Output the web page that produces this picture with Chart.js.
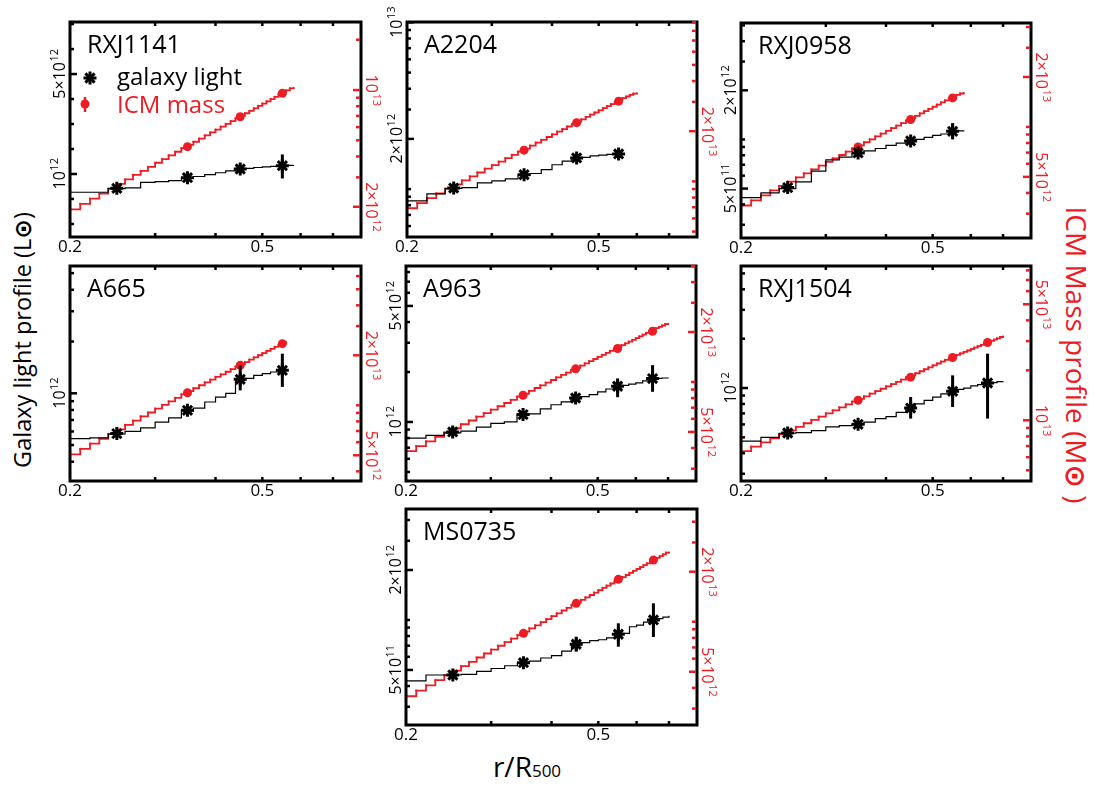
<!DOCTYPE html>
<html>
<head>
<meta charset="utf-8">
<script src="https://cdn.jsdelivr.net/npm/chart.js@4.4.1/dist/chart.umd.min.js"></script>
<style>
  html, body { margin: 0; padding: 0; background: #fff; }
  #page { position: relative; width: 1094px; height: 788px; overflow: hidden; font-family: "Open Sans", sans-serif; }
  #page canvas { position: absolute; }
  .lab { position: absolute; white-space: nowrap; line-height: 1; }
  .sun { font-family: "DejaVu Sans", sans-serif; font-weight: bold; }
</style>
</head>
<body>
<div id="page">
  <div class="lab" style="left:23px; top:340px; font-size:23.5px; transform:translate(-50%,-50%) rotate(-90deg);">Galaxy light profile (L<span class="sun">⊙</span>)</div>
  <div class="lab" style="left:1076px; top:355px; font-size:28px; color:#ed1c24; transform:translate(-50%,-50%) rotate(90deg);">ICM Mass profile (M<span class="sun">⊙</span> )</div>
  <div class="lab" style="left:527px; top:766px; transform:translate(-50%,-50%);"><span style="font-size:28px">r/R</span><span style="font-size:17px">500</span></div>
</div>
<script>
const RED = '#ed1c24';
const FONT = '"Open Sans", sans-serif';

// --- data (luminosity in 1e12 Lsun, ICM mass in 1e12 Msun) ---
const panelNames = ['RXJ1141', 'A2204', 'RXJ0958', 'A665', 'A963', 'RXJ1504', 'MS0735'];
const seriesNames = ['galaxy light', 'ICM mass'];

// step edges of the cumulative profiles (r/R500)
const lightStepR = [0.20, 0.22, 0.24, 0.26, 0.28, 0.30, 0.32, 0.34, 0.36, 0.38, 0.40, 0.42, 0.44,
                    0.46, 0.48, 0.50, 0.52, 0.54, 0.56, 0.58, 0.60, 0.62, 0.64, 0.66, 0.68, 0.70];
const massStepR = [0.20, 0.21, 0.22, 0.23, 0.24, 0.25, 0.26, 0.27, 0.28, 0.29, 0.30, 0.31, 0.32,
                   0.33, 0.34, 0.35, 0.36, 0.37, 0.38, 0.39, 0.40, 0.41, 0.42, 0.43, 0.44, 0.45,
                   0.46, 0.47, 0.48, 0.49, 0.50, 0.51, 0.52, 0.53, 0.54, 0.55, 0.56, 0.57, 0.58,
                   0.59, 0.60, 0.61, 0.62, 0.63, 0.64, 0.65, 0.66, 0.67, 0.68, 0.69, 0.70];
const lightR = [0.25, 0.35, 0.45, 0.55, 0.65];
const massR = [0.35, 0.45, 0.55, 0.65];

const lightStair = [
  [0.745, 0.745, 0.79, 0.80, 0.875, 0.885, 0.90, 0.94, 0.96, 0.99, 1.02, 1.05, 1.08, 1.095, 1.11, 1.12, 1.13, 1.14, 1.15, 1.156],
  [0.85, 0.935, 1.01, 1.02, 1.09, 1.12, 1.15, 1.21, 1.24, 1.31, 1.40, 1.47, 1.53, 1.55, 1.58, 1.60, 1.615, 1.625, 1.63],
  [0.44, 0.47, 0.50, 0.55, 0.64, 0.75, 0.78, 0.82, 0.85, 0.88, 0.92, 0.95, 0.975, 1.0, 1.03, 1.06, 1.08, 1.12, 1.13, 1.14],
  [0.545, 0.55, 0.58, 0.60, 0.63, 0.68, 0.72, 0.79, 0.82, 0.89, 0.95, 1.0, 1.19, 1.22, 1.27, 1.30, 1.33, 1.36, 1.37],
  [0.80, 0.83, 0.86, 0.88, 0.93, 0.98, 1.0, 1.1, 1.12, 1.2, 1.27, 1.32, 1.38, 1.42, 1.46, 1.52, 1.58, 1.63, 1.66, 1.69, 1.72, 1.77, 1.82, 1.83, 1.84, 1.85],
  [0.475, 0.50, 0.53, 0.535, 0.55, 0.58, 0.59, 0.60, 0.62, 0.65, 0.67, 0.71, 0.75, 0.80, 0.84, 0.88, 0.92, 0.955, 0.98, 1.0, 1.03, 1.05, 1.07, 1.08, 1.095, 1.10],
  [0.43, 0.466, 0.466, 0.47, 0.49, 0.51, 0.53, 0.55, 0.565, 0.59, 0.61, 0.65, 0.71, 0.73, 0.75, 0.76, 0.78, 0.82, 0.83, 0.91, 0.93, 0.97, 0.99, 1.02, 1.04, 1.06]
];
const massStair = [
  [1.93, 2.08, 2.24, 2.40, 2.57, 2.74, 2.92, 3.10, 3.28, 3.47, 3.67, 3.86, 4.06, 4.27, 4.48, 4.69, 4.90, 5.12, 5.35, 5.57,
   5.80, 6.04, 6.27, 6.51, 6.76, 7.01, 7.26, 7.51, 7.77, 8.03, 8.30, 8.56, 8.83, 9.11, 9.39, 9.67, 9.95, 10.24, 10.30],
  [6.90, 7.41, 7.94, 8.47, 9.02, 9.58, 10.15, 10.72, 11.31, 11.92, 12.53, 13.15, 13.78, 14.42, 15.07, 15.73, 16.40, 17.08, 17.77, 18.46,
   19.17, 19.88, 20.61, 21.34, 22.08, 22.83, 23.58, 24.35, 25.12, 25.90, 26.69, 27.49, 28.29, 29.10, 29.93, 30.75, 31.59, 32.3, 33.0, 33.6, 33.8],
  [3.36, 3.61, 3.87, 4.14, 4.41, 4.68, 4.97, 5.25, 5.55, 5.84, 6.15, 6.46, 6.77, 7.09, 7.42, 7.75, 8.08, 8.42, 8.76, 9.11,
   9.46, 9.82, 10.18, 10.55, 10.92, 11.29, 11.67, 12.06, 12.44, 12.84, 13.23, 13.63, 14.04, 14.45, 14.86, 15.28, 15.6, 15.9, 16.0],
  [5.06, 5.46, 5.87, 6.29, 6.72, 7.17, 7.63, 8.09, 8.57, 9.05, 9.55, 10.05, 10.57, 11.09, 11.63, 12.16, 12.67, 13.20, 13.73, 14.27,
   14.81, 15.37, 15.92, 16.49, 17.06, 17.64, 18.22, 18.82, 19.41, 20.01, 20.62, 21.24, 21.86, 22.49, 23.13, 23.76, 24.0],
  [3.83, 4.10, 4.38, 4.67, 4.96, 5.26, 5.56, 5.86, 6.18, 6.49, 6.81, 7.14, 7.47, 7.81, 8.15, 8.49, 8.84, 9.20, 9.55, 9.92,
   10.28, 10.65, 11.03, 11.40, 11.78, 12.17, 12.56, 12.95, 13.35, 13.75, 14.16, 14.57, 14.98, 15.39, 15.81, 16.23, 16.66, 17.09, 17.52, 17.96,
   18.40, 18.84, 19.29, 19.74, 20.19, 20.64, 21.10, 21.5, 21.9, 22.3, 22.4],
  [6.52, 6.94, 7.37, 7.80, 8.24, 8.69, 9.14, 9.60, 10.06, 10.53, 11.01, 11.49, 11.97, 12.46, 12.95, 13.45, 13.95, 14.46, 14.97, 15.49,
   16.00, 16.53, 17.06, 17.59, 18.12, 18.66, 19.21, 19.75, 20.30, 20.86, 21.42, 21.98, 22.55, 23.11, 23.68, 24.26, 24.76, 25.28, 25.81, 26.34,
   26.87, 27.41, 27.95, 28.48, 29.02, 29.56, 30.10, 30.65, 31.19, 31.75, 31.9],
  [3.56, 3.85, 4.14, 4.45, 4.76, 5.08, 5.41, 5.74, 6.09, 6.44, 6.80, 7.17, 7.54, 7.92, 8.31, 8.71, 9.11, 9.52, 9.94, 10.37,
   10.80, 11.23, 11.68, 12.13, 12.59, 13.05, 13.52, 14.00, 14.48, 14.97, 15.47, 15.97, 16.48, 16.99, 17.52, 18.04, 18.58, 19.11, 19.66, 20.21,
   20.77, 21.33, 21.90, 22.47, 23.05, 23.64, 24.23, 24.82, 25.43, 26.03, 26.1]
];

const lightPts = [
  [0.794, 0.942, 1.084, 1.143],
  [1.014, 1.219, 1.537, 1.625],
  [0.507, 0.827, 0.979, 1.122],
  [0.583, 0.796, 1.206, 1.36],
  [0.871, 1.108, 1.395, 1.641, 1.826],
  [0.532, 0.601, 0.755, 0.955, 1.073],
  [0.466, 0.553, 0.714, 0.82, 1.0]
];
const lightLo = [
  [null, null, null, 0.93],
  [null, null, null, null],
  [null, null, null, 1.0],
  [null, null, 1.04, 1.09],
  [null, null, 1.33, 1.41, 1.52],
  [null, null, 0.651, 0.766, 0.651],
  [null, null, 0.644, 0.69, 0.79]
];
const lightHi = [
  [null, null, null, 1.37],
  [null, null, null, null],
  [null, null, null, 1.26],
  [null, null, 1.45, 1.70],
  [null, null, 1.46, 1.83, 2.2],
  [null, null, 0.881, 1.195, 1.62],
  [null, null, 0.793, 0.955, 1.26]
];
const massPts = [
  [4.58, 6.92, 9.56],
  [15.4, 22.5, 30.3],
  [7.58, 11.08, 14.95],
  [11.9, 17.4, 23.5],
  [8.32, 12.0, 15.9, 20.2],
  [13.2, 18.2, 23.9, 29.4],
  [8.51, 12.9, 18.0, 23.5]
];

// axis ranges and ticks
const xRange = [0.2, 0.8];
const xTicks = [0.3, 0.4, 0.5, 0.6, 0.7];
const xLabelVals = [0.2, 0.5];
const xLabelText = ['0.2', '0.5'];

const lightRange = [[0.3625, 11.56], [0.516, 10.05], [0.249, 5.17], [0.309, 5.5], [0.441, 8.7], [0.271, 5.55], [0.233, 4.66]];
const massRange = [[1.318, 25.55], [4.64, 90.4], [2.14, 42.3], [3.5, 69], [2.53, 50], [4.31, 85], [2.39, 47.7]];

const lightTicks = [
  [0.447, 0.669, 1, 1.495, 2.236, 3.344, 5, 7.477, 11.18],
  [0.6, 0.7, 0.8, 0.9, 1, 2, 3, 4, 5, 6, 7, 8, 9, 10],
  [0.3, 0.4, 0.5, 0.6, 0.7, 0.8, 0.9, 1, 2, 3, 4, 5],
  [0.4, 0.5, 0.6, 0.7, 0.8, 0.9, 1, 2, 3, 4, 5],
  [0.5, 0.6, 0.7, 0.8, 0.9, 1, 2, 3, 4, 5, 6, 7, 8],
  [0.3, 0.4, 0.5, 0.6, 0.7, 0.8, 0.9, 1, 2, 3, 4, 5],
  [0.3, 0.4, 0.5, 0.6, 0.7, 0.8, 0.9, 1, 2, 3, 4]
];
const lightLabelVals = [[1, 5], [2, 10], [0.5, 2], [1], [1, 5], [1], [0.5, 2]];
const lightLabelText = [
  ['10^12', '5×10^12'], ['2×10^12', '10^13'], ['5×10^11', '2×10^12'], ['10^12'],
  ['10^12', '5×10^12'], ['10^12'], ['5×10^11', '2×10^12']
];

const massTicks = [
  [2, 3, 4, 5, 6, 7, 8, 9, 10, 20],
  [5, 6, 7, 8, 9, 10, 20, 30, 40, 50, 60, 70, 80, 90],
  [3, 4, 5, 6, 7, 8, 9, 10, 20, 30, 40],
  [4, 5, 6, 7, 8, 9, 10, 20, 30, 40, 50, 60],
  [3, 4, 5, 6, 7, 8, 9, 10, 20, 30, 40, 50],
  [5, 6, 7, 8, 9, 10, 20, 30, 40, 50, 60, 70, 80],
  [3, 4, 5, 6, 7, 8, 9, 10, 20, 30, 40]
];
const massLabelVals = [[2, 10], [20], [5, 20], [5, 20], [5, 20], [10, 50], [5, 20]];
const massLabelText = [
  ['2×10^12', '10^13'], ['2×10^13'], ['5×10^12', '2×10^13'], ['5×10^12', '2×10^13'],
  ['5×10^12', '2×10^13'], ['10^13', '5×10^13'], ['5×10^12', '2×10^13']
];

// plot box of each panel on the page: left, top, width, height
const boxes = [
  [70, 22, 291, 215], [407, 22, 290, 215], [741, 23, 290, 215],
  [70, 266, 291, 215], [406, 266, 290, 215], [741, 266, 290, 215],
  [406, 509, 291, 216]
];
const PAD = { left: 36, right: 30, top: 26, bottom: 24 };

function seg(ctx, x1, y1, x2, y2) {
  ctx.beginPath();
  ctx.moveTo(x1, y1);
  ctx.lineTo(x2, y2);
  ctx.stroke();
}

// "2×10^12" -> base text with small raised exponent, rotated
function sciLabel(ctx, text, x, y, angle, color) {
  const parts = text.split('^');
  ctx.save();
  ctx.translate(x, y);
  ctx.rotate(angle);
  ctx.fillStyle = color;
  ctx.textBaseline = 'middle';
  ctx.textAlign = 'left';
  ctx.font = '16px ' + FONT;
  const w1 = ctx.measureText(parts[0]).width;
  ctx.font = '11px ' + FONT;
  const w2 = parts[1] ? ctx.measureText(parts[1]).width : 0;
  const x0 = -(w1 + w2) / 2;
  ctx.font = '16px ' + FONT;
  ctx.fillText(parts[0], x0, 0);
  if (parts[1]) {
    ctx.font = '11px ' + FONT;
    ctx.fillText(parts[1], x0 + w1 + 0.5, -5);
  }
  ctx.restore();
}

function asterisk(ctx, x, y, r) {
  const d = r * Math.SQRT1_2;
  seg(ctx, x - r, y, x + r, y);
  seg(ctx, x, y - r, x, y + r);
  seg(ctx, x - d, y - d, x + d, y + d);
  seg(ctx, x - d, y + d, x + d, y - d);
}

const framePlugin = {
  id: 'frame',
  afterDatasetsDraw(chart, args, opts) {
    const p = opts.panel;
    const ctx = chart.ctx;
    const a = chart.chartArea;
    const sx = chart.scales.x, sl = chart.scales.yL, sr = chart.scales.yR;
    ctx.save();
    ctx.lineCap = 'butt';

    // error bars
    chart.data.datasets.forEach(ds => {
      if (!ds.errLo) return;
      const sy = chart.scales[ds.yAxisID];
      ctx.strokeStyle = ds.borderColor;
      ctx.lineWidth = 3;
      ds.data.forEach((pt, i) => {
        if (ds.errLo[i] == null) return;
        const x = sx.getPixelForValue(pt.x);
        seg(ctx, x, sy.getPixelForValue(ds.errLo[i]), x, sy.getPixelForValue(ds.errHi[i]));
      });
    });

    // frame
    ctx.strokeStyle = '#000';
    ctx.lineWidth = 3;
    ctx.strokeRect(a.left, a.top, a.right - a.left, a.bottom - a.top);

    // x ticks (bottom and top)
    ctx.lineWidth = 2.5;
    xTicks.forEach(v => {
      const x = sx.getPixelForValue(v);
      seg(ctx, x, a.bottom, x, a.bottom - 4);
      seg(ctx, x, a.top, x, a.top + 4);
    });
    // left ticks
    lightTicks[p].forEach(v => {
      const y = sl.getPixelForValue(v);
      if (y < a.top || y > a.bottom) return;
      const len = lightLabelVals[p].includes(v) ? 7 : 4;
      seg(ctx, a.left, y, a.left + len, y);
    });
    // right ticks (ICM axis, red)
    ctx.strokeStyle = RED;
    massTicks[p].forEach(v => {
      const y = sr.getPixelForValue(v);
      if (y < a.top || y > a.bottom) return;
      const len = massLabelVals[p].includes(v) ? 8 : 5;
      seg(ctx, a.right - 1, y, a.right - len, y);
    });

    // tick labels
    ctx.fillStyle = '#000';
    ctx.font = '17px ' + FONT;
    ctx.textAlign = 'center';
    ctx.textBaseline = 'top';
    xLabelVals.forEach((v, i) => ctx.fillText(xLabelText[i], sx.getPixelForValue(v), a.bottom + 2));
    lightLabelVals[p].forEach((v, i) =>
      sciLabel(ctx, lightLabelText[p][i], a.left - 10, sl.getPixelForValue(v), -Math.PI / 2, '#000'));
    massLabelVals[p].forEach((v, i) =>
      sciLabel(ctx, massLabelText[p][i], a.right + 10, sr.getPixelForValue(v), Math.PI / 2, RED));

    // cluster name
    ctx.fillStyle = '#000';
    ctx.font = '25px ' + FONT;
    ctx.textAlign = 'left';
    ctx.textBaseline = 'alphabetic';
    ctx.fillText(panelNames[p], a.left + 17, a.top + 31);

    // legend, first panel only
    if (p === 0) {
      ctx.font = '24px ' + FONT;
      ctx.strokeStyle = '#000';
      ctx.lineWidth = 3;
      asterisk(ctx, a.left + 20, a.top + 56, 6.5);
      ctx.fillStyle = '#000';
      ctx.fillText(seriesNames[0], a.left + 47, a.top + 63);
      ctx.strokeStyle = RED;
      ctx.fillStyle = RED;
      ctx.lineWidth = 2.5;
      seg(ctx, a.left + 15, a.top + 75, a.left + 15, a.top + 90);
      ctx.beginPath();
      ctx.arc(a.left + 15, a.top + 82, 4.5, 0, Math.PI * 2);
      ctx.fill();
      ctx.fillText(seriesNames[1], a.left + 47, a.top + 91);
    }
    ctx.restore();
  }
};

const page = document.getElementById('page');

panelNames.forEach((name, p) => {
  const [bx, by, bw, bh] = boxes[p];
  const canvas = document.createElement('canvas');
  canvas.width = bw + PAD.left + PAD.right;
  canvas.height = bh + PAD.top + PAD.bottom;
  canvas.style.left = (bx - PAD.left) + 'px';
  canvas.style.top = (by - PAD.top) + 'px';
  page.appendChild(canvas);

  const lightData = lightPts[p].map((v, i) => ({ x: lightR[i], y: v }));
  const lightLine = lightStair[p].map((v, i) => ({ x: lightStepR[i], y: v }));
  const massData = massPts[p].map((v, i) => ({ x: massR[i], y: v }));
  const massLine = massStair[p].map((v, i) => ({ x: massStepR[i], y: v }));

  new Chart(canvas, {
    type: 'scatter',
    data: {
      datasets: [
        {
          label: seriesNames[0],
          data: lightData,
          yAxisID: 'yL',
          showLine: false,
          pointStyle: 'star',
          pointRadius: 6.5,
          pointBorderWidth: 3,
          borderColor: '#000',
          backgroundColor: '#000',
          errLo: lightLo[p],
          errHi: lightHi[p]
        },
        {
          data: lightLine,
          yAxisID: 'yL',
          showLine: true,
          stepped: true,
          borderColor: '#000',
          borderWidth: 1.2,
          pointRadius: 0
        },
        {
          label: seriesNames[1],
          data: massData,
          yAxisID: 'yR',
          showLine: false,
          pointStyle: 'circle',
          pointRadius: 4.5,
          pointBorderWidth: 0,
          borderColor: RED,
          backgroundColor: RED
        },
        {
          data: massLine,
          yAxisID: 'yR',
          showLine: true,
          stepped: true,
          borderColor: RED,
          borderWidth: 1.8,
          pointRadius: 1.1,
          pointBorderWidth: 0,
          backgroundColor: RED
        }
      ]
    },
    options: {
      responsive: false,
      animation: false,
      devicePixelRatio: 1,
      events: [],
      layout: { padding: PAD },
      scales: {
        x: { type: 'logarithmic', min: xRange[0], max: xRange[1], bounds: 'data', display: false },
        yL: { type: 'logarithmic', position: 'left', min: lightRange[p][0], max: lightRange[p][1], bounds: 'data', display: false },
        yR: { type: 'logarithmic', position: 'right', min: massRange[p][0], max: massRange[p][1], bounds: 'data', display: false }
      },
      plugins: {
        legend: { display: false },
        tooltip: { enabled: false },
        frame: { panel: p }
      }
    },
    plugins: [framePlugin]
  });
});
</script>
</body>
</html>
